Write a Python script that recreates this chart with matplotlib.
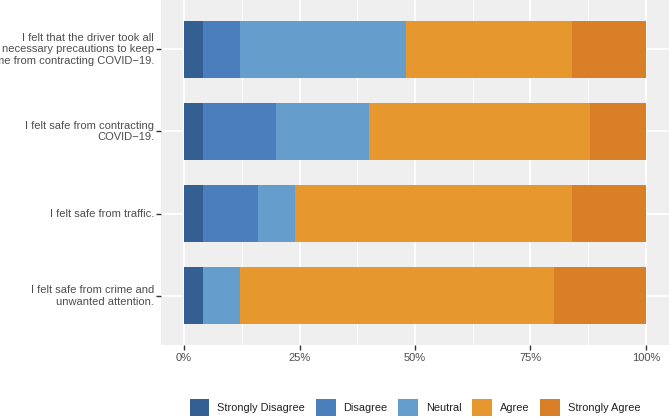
import matplotlib.pyplot as plt
import numpy as np
from matplotlib.patches import Patch
from matplotlib.ticker import FixedLocator, FuncFormatter

plt.rcParams['font.family'] = ['Liberation Sans', 'DejaVu Sans']

# -----------------------------
# Data (percent of respondents)
# -----------------------------
statements = [
    "I felt that the driver took all\nnecessary precautions to keep\nme from contracting COVID\u221219.",
    "I felt safe from contracting\nCOVID\u221219.",
    "I felt safe from traffic.",
    "I felt safe from crime and\nunwanted attention.",
]
levels = ["Strongly Disagree", "Disagree", "Neutral", "Agree", "Strongly Agree"]

strongly_disagree = [4, 4, 4, 4]
disagree = [8, 16, 12, 0]
neutral = [36, 20, 8, 8]
agree = [36, 48, 60, 68]
strongly_agree = [16, 12, 16, 20]

series = [strongly_disagree, disagree, neutral, agree, strongly_agree]
colors = ["#345f93", "#4a7ebc", "#659dcc", "#e6972e", "#d97f28"]

# -----------------------------
# Figure
# -----------------------------
fig = plt.figure(figsize=(6.69, 4.18), dpi=100)
ax = fig.add_axes([161 / 669, 1 - 345 / 418, 1 - 161 / 669, 345 / 418])
ax.set_facecolor("#efefef")

y = np.arange(len(statements))
left = np.zeros(len(statements))
for vals, col, lab in zip(series, colors, levels):
    ax.barh(y, vals, left=left, height=0.7, color=col, label=lab, zorder=3)
    left += np.array(vals)

ax.set_xlim(-5, 105)
ax.set_ylim(len(statements) - 0.4, -0.6)

# grid like ggplot
ax.xaxis.set_major_locator(FixedLocator([0, 25, 50, 75, 100]))
ax.xaxis.set_minor_locator(FixedLocator([12.5, 37.5, 62.5, 87.5]))
ax.xaxis.set_major_formatter(FuncFormatter(lambda v, p: f"{v:.0f}%"))
ax.grid(True, which="major", color="white", lw=1.3, zorder=0)
ax.grid(True, which="minor", axis="x", color="white", lw=0.6, zorder=0)
ax.set_axisbelow(True)

ax.set_yticks(y)
ax.set_yticklabels(statements, ha="right", va="center", linespacing=1.2)

for s in ax.spines.values():
    s.set_visible(False)

ax.tick_params(axis="both", which="major", length=3.5, width=1, color="#333333",
               labelsize=8.0, labelcolor="#4d4d4d", pad=2)
ax.tick_params(axis="y", pad=1.5)
ax.tick_params(axis="x", which="minor", length=0)

handles = [Patch(facecolor=c, edgecolor="none", label=l) for c, l in zip(colors, levels)]
ax.legend(handles=handles, loc="center", bbox_to_anchor=(0.5, -0.18), ncol=5,
          frameon=False, fontsize=7.9, handlelength=1.8, handleheight=2.0,
          handletextpad=0.7, columnspacing=1.0, labelcolor="#222222")

fig.savefig("out.png", dpi=100)
